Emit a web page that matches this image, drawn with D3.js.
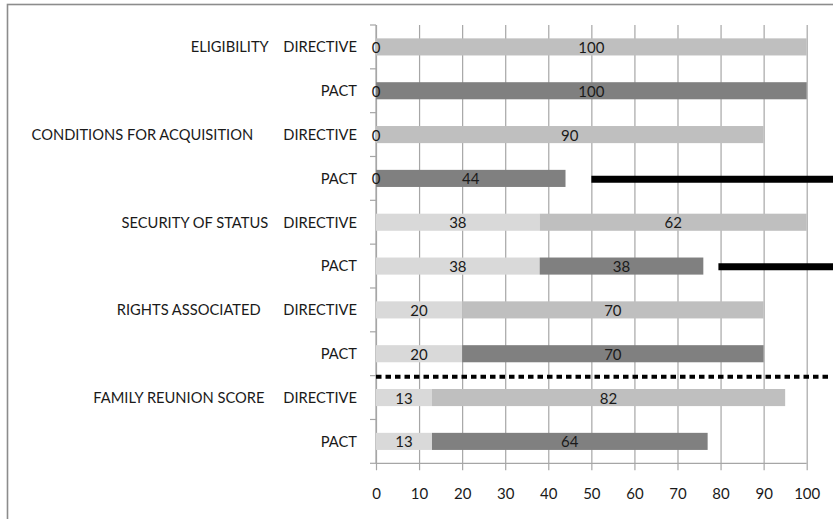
<!DOCTYPE html>
<html>
<head>
<meta charset="utf-8">
<script src="https://cdn.jsdelivr.net/npm/d3@7"></script>
<style>
  body { margin: 0; background: #fff; }
  svg { display: block; }
  text { font-family: Lato, "Open Sans", sans-serif; fill: #1a1a1a; }
</style>
</head>
<body>
<svg id="chart" width="833" height="519"></svg>
<script>
// Row labels (group name + instrument), top to bottom
const rowLabels = [
  "ELIGIBILITY    DIRECTIVE", "PACT",
  "CONDITIONS FOR ACQUISITION        DIRECTIVE", "PACT",
  "SECURITY OF STATUS    DIRECTIVE", "PACT",
  "RIGHTS ASSOCIATED      DIRECTIVE", "PACT",
  "FAMILY REUNION SCORE     DIRECTIVE", "PACT"
];
const instruments = ["DIRECTIVE", "PACT", "DIRECTIVE", "PACT", "DIRECTIVE", "PACT", "DIRECTIVE", "PACT", "DIRECTIVE", "PACT"];
// First (base) segment and second segment of each stacked bar
const baseValues  = [0, 0, 0, 0, 38, 38, 20, 20, 13, 13];
const addedValues = [100, 100, 90, 44, 62, 38, 70, 70, 82, 64];
const xTicks = [0, 10, 20, 30, 40, 50, 60, 70, 80, 90, 100];
// Thick black markers: row index and start value, running off the right edge
const markerRows   = [3, 5];
const markerStarts = [50, 79.5];
const markerEnd    = 110;
// Dotted separator drawn below this row
const separatorAfterRow = 7;
const separatorEnd = 105.3;

const colors = { base: "#d9d9d9", DIRECTIVE: "#bfbfbf", PACT: "#808080" };

const svg = d3.select("#chart");
const W = 833, H = 519;
const plotLeft = 376, plotRight = 806.7, plotTop = 25, plotBottom = 463.3;

// Outer frame (only its left and top edges fall inside the view)
svg.append("rect")
  .attr("x", 7.5).attr("y", 4.5)
  .attr("width", W + 20).attr("height", H + 20)
  .attr("fill", "none").attr("stroke", "#8c8c8c").attr("stroke-width", 1.6);

const x = d3.scaleLinear().domain([0, 100]).range([plotLeft, plotRight]);
const rows = d3.range(rowLabels.length);
const y = d3.scaleBand().domain(rows).range([plotTop, plotBottom]).paddingInner(0.61).paddingOuter(0.305);

// Vertical gridlines with ticks below the axis, plus the x tick labels
const xAxis = d3.axisBottom(x).tickValues(xTicks).tickFormat(d3.format("d"))
  .tickSizeInner(-(plotBottom + 7 - plotTop)).tickSizeOuter(0).tickPadding(18);
const gx = svg.append("g").attr("transform", `translate(0,${plotBottom + 7})`).call(xAxis);
gx.select(".domain").remove();
gx.selectAll(".tick line").attr("stroke", "#a6a6a6").attr("stroke-width", 1.2);
gx.selectAll(".tick text").attr("font-size", 15).attr("fill", "#1a1a1a")
  .style("font-family", "Lato, 'Open Sans', sans-serif");

// Horizontal axis line
svg.append("line")
  .attr("x1", x(0)).attr("x2", x(100)).attr("y1", plotBottom).attr("y2", plotBottom)
  .attr("stroke", "#a6a6a6").attr("stroke-width", 1.2);

// Vertical category axis with ticks on the band boundaries
svg.append("line")
  .attr("x1", x(0)).attr("x2", x(0)).attr("y1", plotTop).attr("y2", plotBottom)
  .attr("stroke", "#a6a6a6").attr("stroke-width", 1.2);
const boundaries = d3.range(rowLabels.length + 1).map(i => plotTop + i * y.step());
svg.append("g").selectAll("line").data(boundaries).join("line")
  .attr("x1", x(0) - 6).attr("x2", x(0)).attr("y1", d => d).attr("y2", d => d)
  .attr("stroke", "#a6a6a6").attr("stroke-width", 1.2);

// Row labels
svg.append("g").selectAll("text").data(rows).join("text")
  .attr("x", x(0) - 19)
  .attr("y", i => y(i) + y.bandwidth() / 2)
  .attr("dy", "0.36em")
  .attr("text-anchor", "end")
  .attr("font-size", 14.7)
  .style("white-space", "pre")
  .text(i => rowLabels[i]);

// Stacked bars
const bars = svg.append("g");
bars.selectAll("rect.base").data(rows).join("rect").attr("class", "base")
  .attr("x", i => x(0))
  .attr("width", i => x(baseValues[i]) - x(0))
  .attr("y", i => y(i)).attr("height", y.bandwidth())
  .attr("fill", colors.base);
bars.selectAll("rect.added").data(rows).join("rect").attr("class", "added")
  .attr("x", i => x(baseValues[i]))
  .attr("width", i => x(baseValues[i] + addedValues[i]) - x(baseValues[i]))
  .attr("y", i => y(i)).attr("height", y.bandwidth())
  .attr("fill", i => colors[instruments[i]]);

// Value labels centred in each segment
const labels = svg.append("g").attr("font-size", 15).attr("text-anchor", "middle");
labels.selectAll("text.base").data(rows).join("text").attr("class", "base")
  .attr("x", i => x(baseValues[i] / 2))
  .attr("y", i => y(i) + y.bandwidth() / 2).attr("dy", "0.4em")
  .text(i => baseValues[i]);
labels.selectAll("text.added").data(rows).join("text").attr("class", "added")
  .attr("x", i => x(baseValues[i] + addedValues[i] / 2))
  .attr("y", i => y(i) + y.bandwidth() / 2).attr("dy", "0.4em")
  .text(i => addedValues[i]);

// Thick black markers
svg.append("g").selectAll("line").data(markerRows).join("line")
  .attr("x1", (r, k) => x(markerStarts[k])).attr("x2", x(markerEnd))
  .attr("y1", r => y(r) + y.bandwidth() / 2 + 0.8)
  .attr("y2", r => y(r) + y.bandwidth() / 2 + 0.8)
  .attr("stroke", "#000").attr("stroke-width", 7);

// Dotted separator between the comparison rows and the overall score
const sepY = plotTop + (separatorAfterRow + 1) * y.step() + 1;
svg.append("line")
  .attr("x1", x(0)).attr("x2", x(separatorEnd))
  .attr("y1", sepY).attr("y2", sepY)
  .attr("stroke", "#000").attr("stroke-width", 4)
  .attr("stroke-dasharray", "5.5,4");
</script>
</body>
</html>
